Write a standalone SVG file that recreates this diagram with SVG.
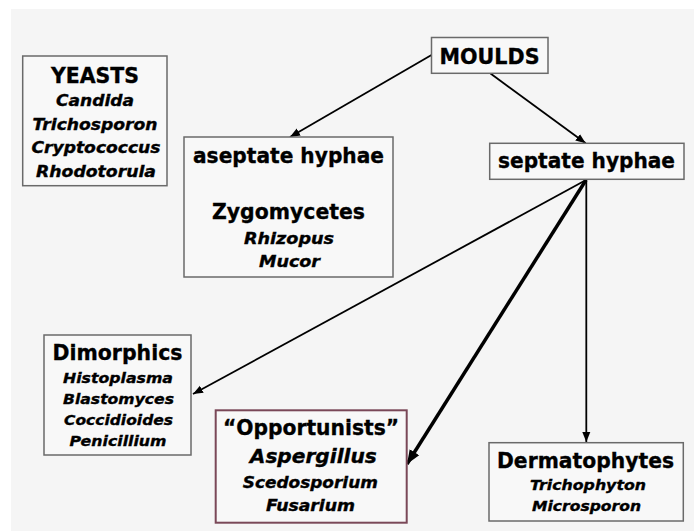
<svg xmlns="http://www.w3.org/2000/svg" width="694" height="531" viewBox="0 0 694 531">
<style>
.box{fill:#f8f8f8;stroke:#6a6a6a;stroke-width:1.5}
.opp{fill:#f8f8f8;stroke:#7a4858;stroke-width:2}
text{font-family:"DejaVu Sans","Liberation Sans",sans-serif;font-weight:bold;fill:#000;text-anchor:middle;stroke:#000;stroke-width:0.35}
.t{font-size:22px}
.i{font-size:15px;font-style:italic}
.s{font-size:14.5px;font-style:italic}
.line{stroke:#000;stroke-width:1.8;fill:none}
.thick{stroke:#000;stroke-width:3.5;fill:none}
</style>
<defs>
<marker id="ah" markerUnits="userSpaceOnUse" markerWidth="10" markerHeight="10" viewBox="0 0 10 10" refX="10" refY="5" orient="auto">
<path d="M0,1 L10,5 L0,9 Z" fill="#000"/>
</marker>
<marker id="ahb" markerUnits="userSpaceOnUse" markerWidth="14" markerHeight="14" viewBox="0 0 10 10" refX="10" refY="5" orient="auto">
<path d="M0,1 L10,5 L0,9 Z" fill="#000"/>
</marker>
</defs>
<rect x="0" y="0" width="694" height="531" fill="#ffffff"/>
<rect x="11" y="9" width="683" height="522" fill="#f5f5f5"/>
<g id="connectors">
<line class="line" x1="431.5" y1="55" x2="290" y2="137" marker-end="url(#ah)"/>
<line class="line" x1="490.5" y1="73.5" x2="585.7" y2="143.3" marker-end="url(#ah)"/>
<line class="line" x1="586" y1="180" x2="193" y2="394" marker-end="url(#ah)"/>
<line class="thick" x1="586" y1="180" x2="407" y2="464" marker-end="url(#ahb)"/>
<line class="line" x1="586.3" y1="180" x2="586.3" y2="442" marker-end="url(#ah)"/>
</g>
<g id="yeasts">
<rect class="box" x="22.7" y="56" width="144.3" height="129.7"/>
<text class="t" x="95" y="83.3" textLength="88" lengthAdjust="spacingAndGlyphs">YEASTS</text>
<text class="i" x="95" y="105.7" textLength="78" lengthAdjust="spacingAndGlyphs">Candida</text>
<text class="i" x="95" y="130" textLength="125" lengthAdjust="spacingAndGlyphs">Trichosporon</text>
<text class="i" x="96" y="153" textLength="129" lengthAdjust="spacingAndGlyphs">Cryptococcus</text>
<text class="i" x="96" y="176.7" textLength="120" lengthAdjust="spacingAndGlyphs">Rhodotorula</text>
</g>
<g id="moulds">
<rect class="box" x="431.5" y="37.5" width="116.5" height="35.8"/>
<text class="t" x="489.5" y="64" textLength="100" lengthAdjust="spacingAndGlyphs">MOULDS</text>
</g>
<g id="aseptate">
<rect class="box" x="184" y="137" width="209" height="140"/>
<text class="t" x="288.5" y="163.3" textLength="191" lengthAdjust="spacingAndGlyphs">aseptate hyphae</text>
<text class="t" x="288.5" y="219" textLength="153" lengthAdjust="spacingAndGlyphs">Zygomycetes</text>
<text class="i" x="289" y="244" textLength="90" lengthAdjust="spacingAndGlyphs">Rhizopus</text>
<text class="i" x="289.5" y="266.7" textLength="61" lengthAdjust="spacingAndGlyphs">Mucor</text>
</g>
<g id="septate">
<rect class="box" x="489.7" y="143.3" width="194.3" height="36"/>
<text class="t" x="586.5" y="168.3" textLength="177" lengthAdjust="spacingAndGlyphs">septate hyphae</text>
</g>
<g id="dimorphics">
<rect class="box" x="44" y="335" width="147" height="120"/>
<text class="t" x="117.5" y="360" textLength="130" lengthAdjust="spacingAndGlyphs">Dimorphics</text>
<text class="s" x="118" y="383" textLength="110" lengthAdjust="spacingAndGlyphs">Histoplasma</text>
<text class="s" x="118.5" y="404" textLength="111" lengthAdjust="spacingAndGlyphs">Blastomyces</text>
<text class="s" x="118.5" y="425" textLength="109" lengthAdjust="spacingAndGlyphs">Coccidioides</text>
<text class="s" x="118" y="446" textLength="97" lengthAdjust="spacingAndGlyphs">Penicillium</text>
</g>
<g id="opportunists">
<rect class="opp" x="215.7" y="410.3" width="191" height="112.4"/>
<text class="t" x="311" y="435.3" textLength="176" lengthAdjust="spacingAndGlyphs">“Opportunists”</text>
<text x="313.3" y="462.7" style="font-size:19px;font-style:italic" textLength="127" lengthAdjust="spacingAndGlyphs">Aspergillus</text>
<text class="i" x="310.3" y="487.7" textLength="135" lengthAdjust="spacingAndGlyphs">Scedosporium</text>
<text class="i" x="310.5" y="511" textLength="89" lengthAdjust="spacingAndGlyphs">Fusarium</text>
</g>
<g id="dermatophytes">
<rect class="box" x="489" y="442.7" width="194.3" height="78.3"/>
<text class="t" x="585.5" y="468.3" textLength="177" lengthAdjust="spacingAndGlyphs">Dermatophytes</text>
<text class="s" x="588" y="490.3" textLength="116" lengthAdjust="spacingAndGlyphs">Trichophyton</text>
<text class="s" x="586.5" y="511" textLength="109" lengthAdjust="spacingAndGlyphs">Microsporon</text>
</g>
</svg>
